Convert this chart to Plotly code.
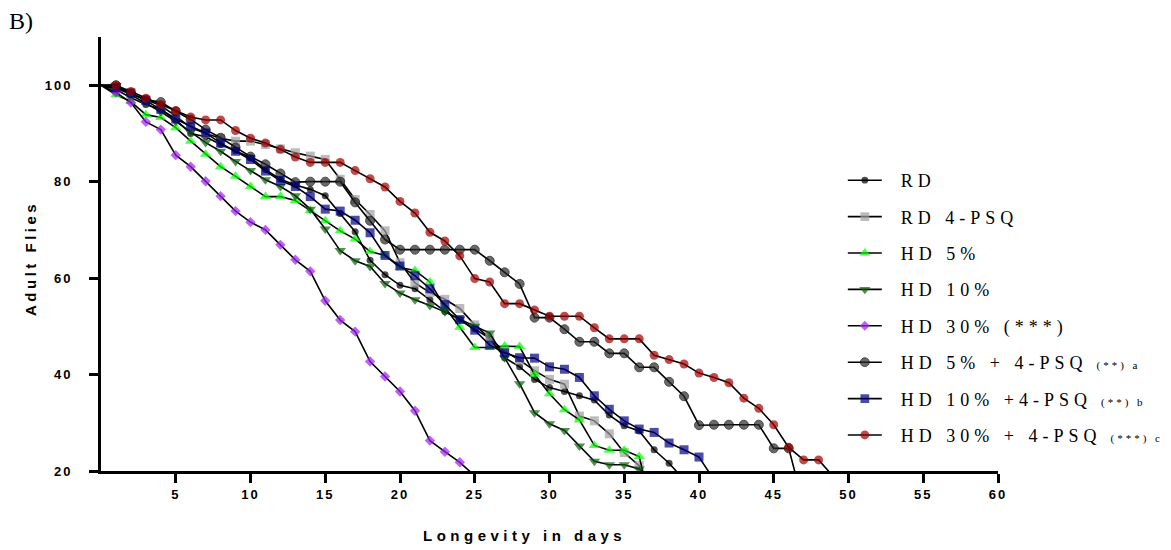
import plotly.graph_objects as go

# ---------------- data ----------------
rd = [100, 99.1, 97.4, 96.0, 95.0, 92.8, 90.0, 89.3, 87.7, 86.4, 85.0, 82.5, 80.5, 79.3, 78.4,
      77.1, 73.4, 69.6, 63.7, 60.7, 58.5, 57.8, 55.5, 53.1, 51.4, 49.5, 47.5, 43.5, 41.6, 39.0,
      37.3, 36.5, 35.6, 34.7, 31.6, 29.4, 28.3, 24.4, 21.6, 18.2]
rd_psq = [100, 99.3, 98.2, 97.0, 95.8, 93.6, 91.2, 90.0, 89.0, 88.4, 88.4, 87.7, 86.8, 86.0, 85.3,
          84.6, 80.5, 76.3, 73.2, 69.8, 63.2, 59.0, 57.0, 55.6, 53.7, 50.3, 47.5, 44.8, 43.0, 40.8,
          39.0, 38.0, 31.4, 30.4, 27.7, 23.8, 21.1, 12.0]
hd5 = [100, 98.0, 96.6, 93.9, 93.3, 91.2, 88.4, 85.7, 83.1, 81.1, 79.0, 76.9, 76.9, 76.1, 74.0,
       71.9, 69.8, 68.1, 65.5, 64.7, 62.2, 61.6, 59.2, 54.0, 49.8, 45.6, 45.6, 45.9, 45.8, 40.0,
       36.0, 32.7, 30.6, 25.3, 24.3, 24.3, 23.0, 10.0]
hd10 = [100, 100, 98.0, 96.2, 94.5, 92.5, 90.3, 88.1, 86.3, 84.2, 82.3, 80.4, 79.0, 77.1, 74.3,
        70.2, 65.7, 63.6, 62.4, 58.9, 56.9, 55.5, 54.3, 53.0, 51.5, 50.0, 48.6, 43.5, 38.1, 32.1,
        29.8, 28.4, 25.2, 22.0, 21.3, 21.3, 20.4, 18.0]
hd30 = [100, 98.5, 96.4, 92.4, 90.8, 85.5, 83.1, 80.1, 77.0, 73.9, 71.6, 70.0, 66.9, 63.8, 61.4,
        55.3, 51.3, 48.9, 42.7, 39.6, 36.5, 32.5, 26.3, 24.0, 21.8, 19.0]
hd5_psq = [100, 100, 98.3, 97.0, 96.5, 94.6, 92.9, 90.8, 89.1, 87.1, 85.2, 83.6, 81.7, 79.9, 80.0,
           80.0, 80.0, 75.7, 71.9, 68.0, 65.9, 65.9, 65.9, 65.9, 65.9, 65.9, 63.6, 61.2, 58.8, 51.8,
           51.8, 49.4, 46.8, 46.8, 44.4, 44.4, 41.5, 41.5, 38.5, 35.5, 29.5, 29.6, 29.6, 29.6, 29.6,
           24.7, 24.7, 12.9]
hd10_psq = [100, 99.5, 98.4, 96.8, 95.0, 93.0, 91.5, 90.1, 88.0, 86.3, 84.6, 82.2, 80.2, 79.0, 76.9,
            74.3, 73.9, 72.0, 69.4, 64.7, 62.5, 60.5, 57.8, 54.5, 51.4, 49.2, 46.1, 44.5, 43.5, 43.4,
            41.6, 41.1, 39.4, 35.6, 32.8, 30.4, 28.7, 28.0, 25.8, 24.4, 22.9, 18.2]
hd30_psq = [100, 100, 98.7, 97.3, 96.0, 94.7, 93.4, 92.8, 92.8, 90.6, 89.0, 88.0, 86.7, 85.1, 84.0,
            84.0, 84.0, 82.3, 80.6, 78.9, 75.9, 73.5, 69.5, 67.7, 64.6, 59.9, 59.2, 54.7, 54.7, 53.4,
            52.1, 52.1, 52.1, 49.7, 47.4, 47.4, 47.4, 44.0, 43.1, 42.2, 40.3, 39.4, 38.3, 35.1, 33.0,
            29.6, 24.9, 22.3, 22.3, 18.8]

series_names = ["RD", "RD 4-PSQ", "HD 5%", "HD 10%", "HD 30% (***)",
                "HD 5% + 4-PSQ", "HD 10% +4-PSQ", "HD 30% + 4-PSQ"]
series_notes = ["", "", "", "", "", "(**) a", "(**) b", "(***) c"]
series_values = [rd, rd_psq, hd5, hd10, hd30, hd5_psq, hd10_psq, hd30_psq]

x_tick_vals = [5, 10, 15, 20, 25, 30, 35, 40, 45, 50, 55, 60]
y_tick_vals = [20, 40, 60, 80, 100]

# ---------------- styles ----------------
styles = [
    dict(symbol="circle", color="#000000", size=7, line=dict(color="#000000", width=0)),
    dict(symbol="square", color="#A0A0A4", size=9, line=dict(color="#A0A0A4", width=0)),
    dict(symbol="triangle-up", color="#00FF00", size=10, line=dict(color="#00FF00", width=0)),
    dict(symbol="triangle-down", color="#0B5E0B", size=10, line=dict(color="#0B5E0B", width=0)),
    dict(symbol="diamond", color="#A020F0", size=8, line=dict(color="#A020F0", width=0)),
    dict(symbol="circle", color="#2A2A2A", size=9, line=dict(color="#000000", width=1)),
    dict(symbol="square", color="#000080", size=9, line=dict(color="#000080", width=0)),
    dict(symbol="circle", color="#A00000", size=9, line=dict(color="#A00000", width=0)),
]

fig = go.Figure()
for i, (name, note, vals) in enumerate(zip(series_names, series_notes, series_values)):
    st = styles[i]
    days = list(range(len(vals)))
    sizes = [0] + [st["size"]] * (len(vals) - 1)
    label = "<span style='letter-spacing:5px'>\u2002" + name + "</span>"
    if note:
        label += "  <span style='font-size:11px;letter-spacing:3px'>" + note + "</span>"
    fig.add_trace(go.Scatter(
        x=days, y=vals, mode="lines+markers", name=label,
        legendgroup=str(i),
        line=dict(color="#000000", width=1.6),
        marker=dict(symbol=st["symbol"], color=st["color"], size=sizes, line=st["line"]),
    ))

axis_font = dict(family="Liberation Sans, Arial, sans-serif", size=13, color="#000000", weight="bold")

fig.update_layout(
    width=1171, height=550,
    margin=dict(l=101, r=173, t=37, b=79, autoexpand=False),
    plot_bgcolor="#FFFFFF", paper_bgcolor="#FFFFFF",
    showlegend=True,
    legend=dict(
        x=0.827, y=0.712, xanchor="left", yanchor="top",
        font=dict(family="Liberation Serif, Times New Roman, serif", size=18, color="#000000"),
        tracegroupgap=10, itemwidth=34, bgcolor="rgba(0,0,0,0)",
    ),
    xaxis=dict(
        range=[0, 60], showgrid=False, zeroline=False,
        showline=True, linecolor="#000000", linewidth=3,
        ticks="outside", ticklen=9, tickwidth=3, tickcolor="#000000",
        tickvals=x_tick_vals,
        ticktext=["<span style='letter-spacing:2px'>%d</span>" % v for v in x_tick_vals],
        tickfont=axis_font,
    ),
    yaxis=dict(
        range=[20, 110], showgrid=False, zeroline=False,
        showline=True, linecolor="#000000", linewidth=3,
        ticks="outside", ticklen=9, tickwidth=3, tickcolor="#000000",
        tickvals=y_tick_vals,
        ticktext=["<span style='letter-spacing:2px'>%d</span>" % v for v in y_tick_vals],
        tickfont=axis_font, ticklabelstandoff=14,
    ),
)

fig.add_annotation(
    text="<b><span style='letter-spacing:4.5px'>Longevity in days</span></b>",
    xref="paper", yref="paper", x=(524 - 101) / 897, y=-(535 - 471) / 434,
    xanchor="center", yanchor="middle", showarrow=False,
    font=dict(family="Liberation Sans, Arial, sans-serif", size=15, color="#000000"),
)
fig.add_annotation(
    text="<b><span style='letter-spacing:3.5px'>Adult Flies</span></b>",
    xref="paper", yref="paper", x=(30 - 101) / 897, y=(471 - 259) / 434,
    xanchor="center", yanchor="middle", textangle=-90, showarrow=False,
    font=dict(family="Liberation Sans, Arial, sans-serif", size=15, color="#000000"),
)
fig.add_annotation(
    text="B)",
    xref="paper", yref="paper", x=(7 - 101) / 897, y=1 + (37 - 21) / 434,
    xanchor="left", yanchor="middle", showarrow=False,
    font=dict(family="Liberation Serif, Times New Roman, serif", size=24, color="#000000"),
)

fig.write_html("out.html")
